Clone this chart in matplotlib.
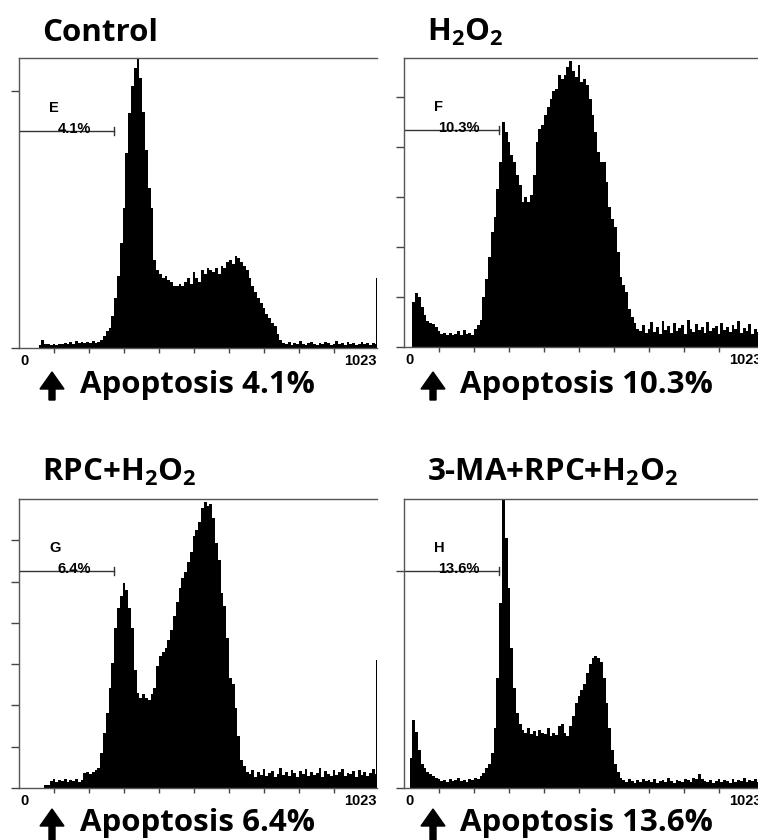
import numpy as np
import matplotlib
matplotlib.use('Agg')
import matplotlib.pyplot as plt
from matplotlib.patches import FancyArrow
from matplotlib.transforms import IdentityTransform

plt.rcParams['mathtext.default'] = 'regular'

# DNA histogram, 128 bins of 8 channels (0..1023), counts
channels = np.arange(0, 1025, 8)

control = [0, 0, 0, 0, 0, 0, 0, 3, 8,
           4, 4, 3, 4, 3, 4, 4, 5, 4, 6, 4, 7, 5, 6, 5, 6, 5, 7, 5, 6, 8,
           12, 17, 20, 32, 50, 72, 105, 140, 195, 235, 262, 280, 289, 270, 236, 198, 160, 140,
           88, 78, 74, 70, 72, 68, 66, 62, 62, 64, 62, 66,
           70, 64, 76, 70, 66, 78, 74, 80, 78, 76, 80, 74,
           82, 80, 86, 88, 84, 92, 90, 86, 82, 78, 70, 62,
           56, 50, 45, 40, 34, 30, 25, 22, 14, 8,
           5, 4, 6, 3, 5, 4, 7, 4, 3, 5, 6, 4, 3, 5, 4, 6, 5, 3, 4, 7,
           4, 5, 3, 6, 4, 5, 3, 4, 6, 4, 5, 3, 5, 4]

h2o2 = [0, 0, 0,
        45, 54, 50, 40, 32, 26, 24, 23, 20, 16, 13, 14, 12, 14, 12, 13, 16, 12, 17, 13,
        14, 12, 18, 22, 27,
        50, 68, 90, 115, 130, 158, 185, 225, 215, 205, 192, 185, 172, 162, 145, 150, 145, 152, 172, 205,
        218, 222, 232, 240, 248, 256, 258, 272, 268, 272, 280, 286, 276, 270, 282, 265, 268, 262, 248, 232,
        215, 195, 185, 185, 165, 140, 128, 120, 95, 70, 62, 55, 38, 30, 24, 18,
        16, 22, 14, 18, 25, 15, 20, 13, 26, 17, 21, 14, 24, 16, 19, 22, 13, 27, 18, 15,
        23, 17, 20, 14, 25, 16, 19, 21, 13, 24, 17, 20, 15, 22, 18, 26, 14, 19, 16, 23,
        13, 18, 15, 17]

rpc_h2o2 = [0, 0, 0, 0, 0, 0, 0, 0, 0,
            3, 3, 7, 9, 6, 8, 7, 9, 6, 8, 7, 9, 6, 8, 15, 16, 14, 16, 18, 20,
            35, 55, 75, 100, 125, 160, 180, 192, 205, 198, 180, 160, 118, 95, 90, 94, 90, 88, 94, 100,
            122, 132, 136, 140, 148, 158, 172, 186, 200, 210, 216, 226, 236, 252, 258, 266, 280, 286, 282, 284,
            270, 245, 228, 195, 182, 150, 110, 104, 80, 52, 28, 22, 16,
            14, 18, 11, 16, 13, 19, 12, 15, 17, 11, 14, 20, 13, 16, 12, 18, 15, 11, 17, 14,
            19, 12, 16, 13, 15, 20, 11, 17, 14, 12, 18, 13, 16, 19, 12, 15, 14, 17, 11, 18,
            13, 16, 12, 15, 19, 14]

ma_rpc_h2o2 = [0, 0,
               30, 68, 56, 38, 24, 20, 16, 14, 12, 10, 9,
               7, 8, 6, 9, 7, 8, 10, 7, 8, 6, 9, 8, 10, 9, 12,
               15, 20, 24, 35, 60, 110, 185, 289, 250, 200, 140, 100, 75, 64,
               58, 55, 60, 54, 57, 52, 58, 55, 54, 60, 52, 55, 53, 62, 64, 55, 52, 62,
               72, 85, 92, 98, 104, 115, 124, 130, 132, 130, 126, 110, 85, 60, 38, 24, 16, 10,
               8, 6, 9, 7, 5, 8, 6, 9, 7, 8, 6, 9, 5, 7, 8, 6, 10, 7, 5, 8,
               7, 6, 9, 8, 6, 10, 9, 14,
               9, 7, 6, 8, 5, 7, 9, 6, 8, 7, 5, 9, 6, 8, 7, 10, 6, 8, 7, 9, 6, 8]

# counts piled up in the very last channel (1023)
last_channel = [70, 0, 128, 0]

titles = ['Control', 'H$_2$O$_2$', 'RPC+H$_2$O$_2$', '3-MA+RPC+H$_2$O$_2$']
gate_letters = ['E', 'F', 'G', 'H']
apoptosis = ['4.1', '10.3', '6.4', '13.6']
y_top = [290, 289, 289, 289]
y_ticks = [[0, 257],
           [0, 50, 100, 150, 200, 250],
           [0, 41.3, 82.6, 124, 165, 206.5, 248],
           [0, 217]]
gate_end = 271
gate_height = 217

series = [control, h2o2, rpc_h2o2, ma_rpc_h2o2]

W, H = 758, 840
fig = plt.figure(figsize=(W / 100, H / 100), dpi=100)

# panel boxes in pixels: left, top, right, bottom
boxes = [(19, 58, 377, 348), (404, 58, 762, 347),
         (19, 499, 377, 788), (404, 499, 762, 788)]
title_pos = [(42, 41), (427, 41), (42, 481), (427, 481)]
text_pos = [(80, 393), (460, 393), (80, 831), (460, 831)]
arrow_x = [52, 433, 52, 433]
arrow_span = [(400, 372), (400, 372), (842, 809), (842, 809)]

label_font = dict(family='Liberation Sans', weight='bold', fontsize=10.5)
big_font = dict(family='Open Sans', weight='bold', fontsize=22.5)

for k in range(4):
    l, t, r, b = boxes[k]
    ax = fig.add_axes([l / W, 1 - b / H, (r - l) / W, (b - t) / H])
    ax.stairs(series[k], channels, fill=True, color='black', lw=0)
    if last_channel[k] > 0:
        ax.bar(1021.5, last_channel[k], width=3, color='black')
    ax.set_xlim(0, 1023)
    ax.set_ylim(0, y_top[k])

    ax.set_xticks([])
    ax.set_xticks(range(100, 1000, 100), minor=True)
    ax.tick_params(axis='x', which='minor', length=3.5, width=1, color='#444')
    ax.set_yticks(y_ticks[k])
    ax.set_yticklabels([])
    ax.tick_params(axis='y', length=6, width=1, color='#444')
    ax.spines['right'].set_visible(False)
    for s in ['left', 'top', 'bottom']:
        ax.spines[s].set_color('#555')
        ax.spines[s].set_linewidth(1)

    ax.annotate('0', xy=(0, 0), xycoords=('data', 'axes fraction'), xytext=(1, -6),
                textcoords='offset pixels', ha='left', va='top', **label_font)
    ax.annotate('1023', xy=(1023, 0), xycoords=('data', 'axes fraction'), xytext=(0, -6),
                textcoords='offset pixels', ha='right', va='top', annotation_clip=False,
                **label_font)

    # marker gate
    ax.plot([0, gate_end], [gate_height, gate_height], color='#333', lw=1)
    ax.plot([gate_end, gate_end], [gate_height - 4, gate_height + 4], color='#333', lw=1)
    ax.text(86, 240, gate_letters[k], ha='left', va='center', **label_font)
    ax.text(158, gate_height + 2, apoptosis[k] + '%', ha='center', va='center', **label_font)

    # titles and captions
    fig.text(title_pos[k][0] / W, 1 - title_pos[k][1] / H, titles[k], va='baseline', **big_font)
    fig.text(text_pos[k][0] / W, 1 - text_pos[k][1] / H, 'Apoptosis ' + apoptosis[k] + '%',
             va='baseline', **big_font)
    y0, y1 = arrow_span[k]
    fig.add_artist(FancyArrow(arrow_x[k], H - y0, 0, y0 - y1, width=6, head_width=24,
                              head_length=17, length_includes_head=True, color='black',
                              transform=IdentityTransform()))

fig.savefig('out.png', dpi=100)
